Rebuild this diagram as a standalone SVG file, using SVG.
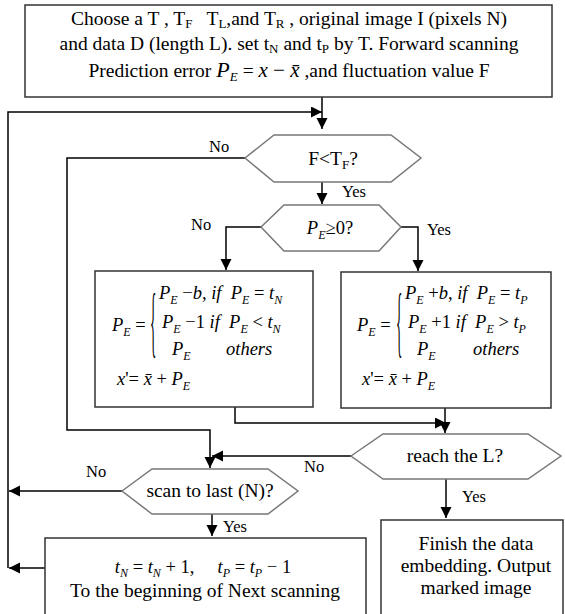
<svg xmlns="http://www.w3.org/2000/svg" width="565" height="614" viewBox="0 0 565 614">
<defs>
<style>
.t{font-family:"Liberation Serif","Times New Roman",serif;font-size:19.5px;fill:#000}
.m{font-family:"Liberation Serif","Times New Roman",serif;font-size:18.5px;font-style:italic;fill:#000}
.r{font-style:normal}
.lbl{font-family:"Liberation Serif","Times New Roman",serif;font-size:16.5px;fill:#000}
.box{fill:#fff;stroke:#333;stroke-width:1.5}
.hex{fill:#fff;stroke:#777;stroke-width:1.5}
.c{fill:none;stroke:#000;stroke-width:1.5}
.br{font-family:"Liberation Serif","Times New Roman",serif;font-size:78px;fill:#000}
</style>
<marker id="ah" markerUnits="userSpaceOnUse" markerWidth="12" markerHeight="12" refX="11" refY="5.5" orient="auto">
<path d="M0,0 L11,5.5 L0,11 z" fill="#000"/>
</marker>
</defs>

<g id="connectors">
<path class="c" d="M322,97 V129" marker-end="url(#ah)"/>
<path class="c" d="M8,568 V112 H322" marker-end="url(#ah)"/>
<path class="c" d="M322,182 V204" marker-end="url(#ah)"/>
<path class="c" d="M245,158 H67 V430 H210 V468" marker-end="url(#ah)"/>
<path class="c" d="M261,227 H226 V270" marker-end="url(#ah)"/>
<path class="c" d="M401,227 H418 V271" marker-end="url(#ah)"/>
<path class="c" d="M235,407 V423 H446" marker-end="url(#ah)"/>
<path class="c" d="M445,408 V433" marker-end="url(#ah)"/>
<path class="c" d="M351,456 H212" marker-end="url(#ah)"/>
<path class="c" d="M122,491 H9" marker-end="url(#ah)"/>
<path class="c" d="M212,514 V536" marker-end="url(#ah)"/>
<path class="c" d="M45,568 H9" marker-end="url(#ah)"/>
<path class="c" d="M446,479 V518" marker-end="url(#ah)"/>
<text class="lbl" x="209" y="152">No</text>
<text class="lbl" x="342" y="197">Yes</text>
<text class="lbl" x="191" y="230">No</text>
<text class="lbl" x="427" y="235">Yes</text>
<text class="lbl" x="304" y="472">No</text>
<text class="lbl" x="86" y="477">No</text>
<text class="lbl" x="462" y="502">Yes</text>
<text class="lbl" x="223" y="532">Yes</text>
</g>

<g id="start">
<rect class="box" x="25" y="5" width="527" height="92"/>
<text class="t" x="289" y="25" text-anchor="middle">Choose a T , T<tspan font-size="13" dy="3">F</tspan><tspan dy="-3" dx="14">T</tspan><tspan font-size="13" dy="3">L</tspan><tspan dy="-3">,and T</tspan><tspan font-size="13" dy="3">R</tspan><tspan dy="-3"> , original image I (pixels N)</tspan></text>
<text class="t" x="289" y="50" text-anchor="middle">and data D (length L). set t<tspan font-size="13" dy="3">N</tspan><tspan dy="-3"> and t</tspan><tspan font-size="13" dy="3">P</tspan><tspan dy="-3"> by T. Forward scanning</tspan></text>
<text class="t" x="289" y="77" text-anchor="middle">Prediction error <tspan font-style="italic" font-size="22">P</tspan><tspan font-style="italic" font-size="13" dy="4">E</tspan><tspan dy="-4" dx="5">= </tspan><tspan font-style="italic" font-size="21">x</tspan><tspan font-size="21"> − </tspan><tspan font-style="italic" font-size="21">x̄</tspan> ,and fluctuation value F</text>
</g>

<g id="dec-f">
<polygon class="hex" points="245,158 274,135 391,135 421,158 391,182 274,182"/>
<text class="t" x="333" y="165" text-anchor="middle" font-size="20">F&lt;T<tspan font-size="13" dy="4">F</tspan><tspan dy="-4">?</tspan></text>
</g>

<g id="dec-pe">
<polygon class="hex" points="261,227 284,205 379,205 401,227 379,251 284,251"/>
<text class="m" x="330" y="234" text-anchor="middle" font-size="20">P<tspan font-size="12" dy="5">E</tspan><tspan class="r" dy="-5">≥0?</tspan></text>
</g>

<g id="box-neg">
<rect class="box" x="95" y="271" width="218" height="136"/>
<text class="m" x="112" y="331" xml:space="preserve">P<tspan font-size="12" dy="5">E</tspan><tspan class="r" dy="-5"> =</tspan></text>
<text class="br" transform="translate(150,348) scale(0.17,1)">{</text>
<text class="m" x="159" y="299" xml:space="preserve">P<tspan font-size="12" dy="5">E</tspan><tspan class="r" dy="-5"> −</tspan>b<tspan class="r">, </tspan>if  P<tspan font-size="12" dy="5">E</tspan><tspan class="r" dy="-5"> = </tspan>t<tspan font-size="12" dy="5">N</tspan></text>
<text class="m" x="162" y="328" xml:space="preserve">P<tspan font-size="12" dy="5">E</tspan><tspan class="r" dy="-5"> −1 </tspan>if  P<tspan font-size="12" dy="5">E</tspan><tspan class="r" dy="-5"> &lt; </tspan>t<tspan font-size="12" dy="5">N</tspan></text>
<text class="m" x="172" y="355">P<tspan font-size="12" dy="5">E</tspan></text>
<text class="m" x="226" y="355">others</text>
<text class="m" x="117" y="385" xml:space="preserve">x<tspan class="r">'= </tspan>x̄<tspan class="r"> + </tspan>P<tspan font-size="12" dy="5">E</tspan></text>
</g>

<g id="box-pos">
<rect class="box" x="341" y="272" width="210" height="136"/>
<text class="m" x="357" y="331" xml:space="preserve">P<tspan font-size="12" dy="5">E</tspan><tspan class="r" dy="-5"> =</tspan></text>
<text class="br" transform="translate(396,348) scale(0.17,1)">{</text>
<text class="m" x="405" y="299" xml:space="preserve">P<tspan font-size="12" dy="5">E</tspan><tspan class="r" dy="-5"> +</tspan>b<tspan class="r">, </tspan>if  P<tspan font-size="12" dy="5">E</tspan><tspan class="r" dy="-5"> = </tspan>t<tspan font-size="12" dy="5">P</tspan></text>
<text class="m" x="408" y="328" xml:space="preserve">P<tspan font-size="12" dy="5">E</tspan><tspan class="r" dy="-5"> +1 </tspan>if  P<tspan font-size="12" dy="5">E</tspan><tspan class="r" dy="-5"> &gt; </tspan>t<tspan font-size="12" dy="5">P</tspan></text>
<text class="m" x="417" y="355">P<tspan font-size="12" dy="5">E</tspan></text>
<text class="m" x="473" y="355">others</text>
<text class="m" x="362" y="385" xml:space="preserve">x<tspan class="r">'= </tspan>x̄<tspan class="r"> + </tspan>P<tspan font-size="12" dy="5">E</tspan></text>
</g>

<g id="dec-l">
<polygon class="hex" points="351,456 383,434 528,434 561,456 528,479 383,479"/>
<text class="t" x="455" y="462" text-anchor="middle" font-size="17">reach the L?</text>
</g>

<g id="dec-n">
<polygon class="hex" points="122,491 152,469 268,469 298,491 268,514 152,514"/>
<text class="t" x="210" y="497" text-anchor="middle" font-size="17">scan to last (N)?</text>
</g>

<g id="next">
<rect class="box" x="45" y="538" width="321" height="90"/>
<text class="m" x="203" y="573" text-anchor="middle" font-size="19" xml:space="preserve">t<tspan font-size="12" dy="4">N</tspan><tspan class="r" dy="-4"> = </tspan>t<tspan font-size="12" dy="4">N</tspan><tspan class="r" dy="-4"> + 1,     </tspan>t<tspan font-size="12" dy="4">P</tspan><tspan class="r" dy="-4"> = </tspan>t<tspan font-size="12" dy="4">P</tspan><tspan class="r" dy="-4"> − 1</tspan></text>
<text class="t" x="205" y="597" text-anchor="middle">To the beginning of Next scanning</text>
</g>

<g id="finish">
<rect class="box" x="381" y="520" width="182" height="110"/>
<text class="t" x="476" y="550" text-anchor="middle">Finish the data</text>
<text class="t" x="476" y="572" text-anchor="middle">embedding. Output</text>
<text class="t" x="476" y="594" text-anchor="middle">marked image</text>
</g>
</svg>
